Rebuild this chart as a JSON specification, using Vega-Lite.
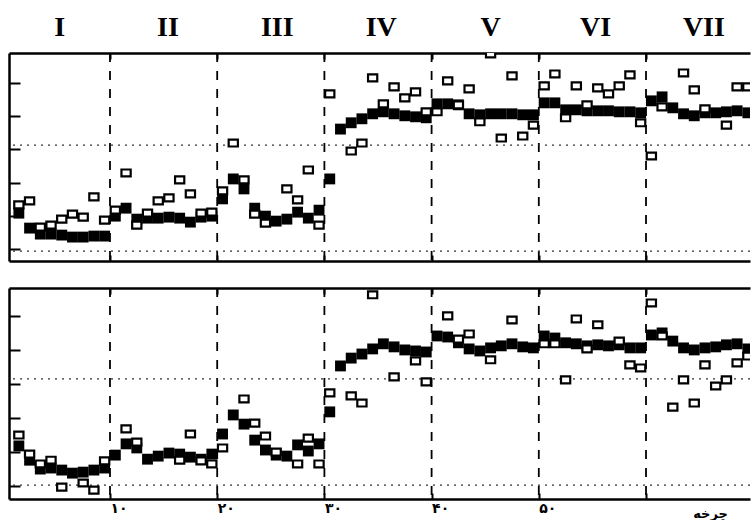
{
"$schema": "https://vega.github.io/schema/vega-lite/v6.json",
"background": "white",
"padding": {"left": 8, "top": 13, "right": 0, "bottom": 0},
"spacing": 25,
"config": {"view": {"stroke": null}, "axis": {"grid": false, "domainColor": "black", "tickColor": "black", "domainWidth": 2.5, "tickWidth": 2}},
"datasets": {
"dec": [{"c":10},{"c":20},{"c":30},{"c":40},{"c":50},{"c":60}],
"roman": [{"x":5.3,"t":"I"},{"x":15.4,"t":"II"},{"x":25.6,"t":"III"},{"x":35.3,"t":"IV"},{"x":45.5,"t":"V"},{"x":55.3,"t":"VI"},{"x":65.4,"t":"VII"}],
"top_dot": [{"v":31.3},{"v":-0.6}],
"bot_dot": [{"v":31.5},{"v":0.3}],
"top_f": [{"x":1.5,"v":10.8},{"x":2.5,"v":6.3},{"x":3.5,"v":4.5},{"x":4.5,"v":4.5},{"x":5.5,"v":4.2},{"x":6.5,"v":3.6},{"x":7.5,"v":3.6},{"x":8.5,"v":3.9},{"x":9.5,"v":3.9},{"x":10.5,"v":9.9},{"x":11.5,"v":12.3},{"x":12.5,"v":9.0},{"x":13.5,"v":9.3},{"x":14.5,"v":9.3},{"x":15.5,"v":9.6},{"x":16.5,"v":9.3},{"x":17.5,"v":8.1},{"x":18.5,"v":9.6},{"x":19.5,"v":9.9},{"x":20.5,"v":15.1},{"x":21.5,"v":21.1},{"x":22.5,"v":18.1},{"x":23.5,"v":12.3},{"x":24.5,"v":9.9},{"x":25.5,"v":8.4},{"x":26.5,"v":9.0},{"x":27.5,"v":11.1},{"x":28.5,"v":9.3},{"x":29.5,"v":11.7},{"x":30.5,"v":21.1},{"x":31.5,"v":36.1},{"x":32.5,"v":38.0},{"x":33.5,"v":39.2},{"x":34.5,"v":40.7},{"x":35.5,"v":41.3},{"x":36.5,"v":40.7},{"x":37.5,"v":40.1},{"x":38.5,"v":39.8},{"x":39.5,"v":39.5},{"x":40.5,"v":43.7},{"x":41.5,"v":43.7},{"x":42.5,"v":43.4},{"x":43.5,"v":40.7},{"x":44.5,"v":40.4},{"x":45.5,"v":40.7},{"x":46.5,"v":40.7},{"x":47.5,"v":40.7},{"x":48.5,"v":40.4},{"x":49.5,"v":40.4},{"x":50.5,"v":44.0},{"x":51.5,"v":44.0},{"x":52.5,"v":41.9},{"x":53.5,"v":41.9},{"x":54.5,"v":41.6},{"x":55.5,"v":41.6},{"x":56.5,"v":41.6},{"x":57.5,"v":41.3},{"x":58.5,"v":41.3},{"x":59.5,"v":41.0},{"x":60.5,"v":44.6},{"x":61.5,"v":45.8},{"x":62.5,"v":42.5},{"x":63.5,"v":40.7},{"x":64.5,"v":40.1},{"x":65.5,"v":41.0},{"x":66.5,"v":41.0},{"x":67.5,"v":41.3},{"x":68.5,"v":41.6},{"x":69.5,"v":41.0}],
"top_o": [{"x":1.5,"v":13.3},{"x":2.5,"v":14.5},{"x":3.5,"v":6.6},{"x":4.5,"v":7.2},{"x":5.5,"v":9.0},{"x":6.5,"v":10.5},{"x":7.5,"v":9.6},{"x":8.5,"v":15.7},{"x":9.5,"v":8.7},{"x":10.5,"v":11.7},{"x":11.5,"v":22.9},{"x":12.5,"v":7.2},{"x":13.5,"v":10.8},{"x":14.5,"v":14.5},{"x":15.5,"v":15.4},{"x":16.5,"v":20.8},{"x":17.5,"v":16.6},{"x":18.5,"v":10.8},{"x":19.5,"v":11.1},{"x":20.5,"v":17.5},{"x":21.5,"v":31.9},{"x":22.5,"v":20.8},{"x":23.5,"v":10.5},{"x":24.5,"v":7.8},{"x":26.5,"v":18.1},{"x":27.5,"v":14.8},{"x":28.5,"v":23.8},{"x":29.5,"v":7.2},{"x":30.5,"v":46.7},{"x":32.5,"v":29.5},{"x":33.5,"v":31.9},{"x":34.5,"v":51.5},{"x":35.5,"v":43.7},{"x":36.5,"v":48.8},{"x":37.5,"v":45.5},{"x":38.5,"v":47.3},{"x":39.5,"v":41.3},{"x":40.5,"v":41.3},{"x":41.5,"v":50.6},{"x":42.5,"v":43.4},{"x":43.5,"v":48.2},{"x":44.5,"v":38.3},{"x":45.5,"v":58.7},{"x":46.5,"v":33.4},{"x":47.5,"v":52.1},{"x":48.5,"v":34.0},{"x":49.5,"v":37.3},{"x":50.5,"v":49.1},{"x":51.5,"v":52.7},{"x":52.5,"v":39.5},{"x":53.5,"v":49.1},{"x":54.5,"v":43.4},{"x":55.5,"v":48.5},{"x":56.5,"v":46.7},{"x":57.5,"v":49.1},{"x":58.5,"v":52.4},{"x":59.5,"v":38.0},{"x":60.5,"v":28.0},{"x":61.5,"v":42.8},{"x":63.5,"v":53.0},{"x":64.5,"v":47.9},{"x":65.5,"v":42.2},{"x":67.5,"v":37.3},{"x":68.5,"v":48.8},{"x":69.5,"v":48.8}],
"bot_f": [{"x":1.5,"v":11.8},{"x":2.5,"v":7.6},{"x":3.5,"v":5.0},{"x":4.5,"v":5.3},{"x":5.5,"v":4.7},{"x":6.5,"v":3.8},{"x":7.5,"v":4.1},{"x":8.5,"v":4.7},{"x":9.5,"v":5.3},{"x":10.5,"v":9.1},{"x":11.5,"v":12.4},{"x":12.5,"v":11.2},{"x":13.5,"v":7.9},{"x":14.5,"v":8.8},{"x":15.5,"v":9.7},{"x":16.5,"v":9.4},{"x":17.5,"v":8.5},{"x":18.5,"v":7.9},{"x":19.5,"v":9.4},{"x":20.5,"v":15.3},{"x":21.5,"v":20.9},{"x":22.5,"v":18.2},{"x":23.5,"v":13.5},{"x":24.5,"v":10.6},{"x":25.5,"v":9.1},{"x":26.5,"v":8.8},{"x":27.5,"v":12.1},{"x":28.5,"v":10.3},{"x":29.5,"v":12.4},{"x":30.5,"v":21.8},{"x":31.5,"v":35.3},{"x":32.5,"v":37.6},{"x":33.5,"v":38.8},{"x":34.5,"v":40.3},{"x":35.5,"v":41.8},{"x":36.5,"v":40.9},{"x":37.5,"v":40.0},{"x":38.5,"v":39.7},{"x":39.5,"v":39.4},{"x":40.5,"v":44.1},{"x":41.5,"v":43.8},{"x":42.5,"v":42.1},{"x":43.5,"v":40.3},{"x":44.5,"v":39.7},{"x":45.5,"v":40.6},{"x":46.5,"v":41.2},{"x":47.5,"v":41.8},{"x":48.5,"v":40.9},{"x":49.5,"v":40.6},{"x":50.5,"v":44.1},{"x":51.5,"v":43.5},{"x":52.5,"v":42.1},{"x":53.5,"v":41.8},{"x":54.5,"v":41.2},{"x":55.5,"v":41.5},{"x":56.5,"v":41.2},{"x":57.5,"v":41.5},{"x":58.5,"v":40.6},{"x":59.5,"v":40.6},{"x":60.5,"v":44.4},{"x":61.5,"v":45.0},{"x":62.5,"v":42.6},{"x":63.5,"v":40.6},{"x":64.5,"v":40.0},{"x":65.5,"v":40.6},{"x":66.5,"v":40.9},{"x":67.5,"v":41.5},{"x":68.5,"v":41.8},{"x":69.5,"v":40.3}],
"bot_o": [{"x":1.5,"v":15.0},{"x":2.5,"v":9.4},{"x":3.5,"v":6.5},{"x":4.5,"v":7.6},{"x":5.5,"v":-0.3},{"x":7.5,"v":0.9},{"x":8.5,"v":-1.2},{"x":9.5,"v":7.4},{"x":11.5,"v":16.8},{"x":12.5,"v":12.9},{"x":16.5,"v":7.6},{"x":17.5,"v":15.3},{"x":18.5,"v":7.4},{"x":19.5,"v":6.5},{"x":20.5,"v":11.2},{"x":22.5,"v":25.6},{"x":23.5,"v":18.5},{"x":24.5,"v":14.7},{"x":25.5,"v":10.0},{"x":27.5,"v":6.5},{"x":28.5,"v":14.1},{"x":29.5,"v":6.5},{"x":30.5,"v":27.4},{"x":32.5,"v":26.5},{"x":33.5,"v":24.4},{"x":34.5,"v":56.2},{"x":36.5,"v":32.1},{"x":38.5,"v":36.8},{"x":39.5,"v":30.6},{"x":41.5,"v":50.0},{"x":42.5,"v":43.2},{"x":43.5,"v":44.7},{"x":45.5,"v":37.1},{"x":47.5,"v":48.8},{"x":50.5,"v":41.8},{"x":51.5,"v":41.8},{"x":52.5,"v":31.2},{"x":53.5,"v":49.1},{"x":54.5,"v":40.3},{"x":55.5,"v":47.4},{"x":57.5,"v":42.6},{"x":58.5,"v":35.6},{"x":59.5,"v":34.7},{"x":60.5,"v":53.8},{"x":61.5,"v":44.1},{"x":62.5,"v":23.2},{"x":63.5,"v":31.2},{"x":64.5,"v":24.4},{"x":65.5,"v":35.6},{"x":66.5,"v":29.4},{"x":67.5,"v":31.2},{"x":68.5,"v":36.2},{"x":69.5,"v":38.2}]
},
"vconcat": [
{
"width": 741, "height": 208,
"resolve": {"axis": {"x": "independent"}},
"layer": [
{"data": {"name": "dec"}, "mark": {"type": "rule", "strokeDash": [9, 9], "strokeWidth": 1.8, "color": "black"},
 "encoding": {"x": {"field": "c", "type": "quantitative", "scale": {"domain": [0.58, 69.7]}, "axis": {"orient": "bottom", "values": [10,20,30,40,50,60], "labels": false, "tickSize": -6, "title": null}}}},
{"data": {"name": "top_dot"}, "mark": {"type": "rule", "strokeDash": [2, 5], "strokeWidth": 1.2, "color": "#333"},
 "encoding": {"y": {"field": "v", "type": "quantitative", "scale": {"domain": [-3.6, 59.0]}, "axis": {"values": [0,10,20,30,40,50], "labels": false, "tickSize": -11, "title": null}}}},
{"data": {"name": "top_f"}, "mark": {"type": "point", "shape": "square", "filled": true, "size": 118, "color": "black", "opacity": 1, "clip": true},
 "encoding": {"x": {"field": "x", "type": "quantitative", "scale": {"domain": [0.58, 69.7]}, "axis": null},
  "y": {"field": "v", "type": "quantitative", "scale": {"domain": [-3.6, 59.0]}, "axis": {"values": [0,10,20,30,40,50], "labels": false, "tickSize": -11, "title": null}}}},
{"data": {"name": "top_o"}, "mark": {"type": "point", "shape": "M-1,-0.75L1,-0.75L1,0.75L-1,0.75Z", "filled": true, "fill": "white", "stroke": "black", "strokeWidth": 2.2, "size": 85, "opacity": 1, "clip": true},
 "encoding": {"x": {"field": "x", "type": "quantitative", "scale": {"domain": [0.58, 69.7]}, "axis": {"orient": "top", "values": [10,20,30,40,50,60], "labels": false, "tickSize": -6, "title": null}},
  "y": {"field": "v", "type": "quantitative", "scale": {"domain": [-3.6, 59.0]}, "axis": {"values": [0,10,20,30,40,50], "labels": false, "tickSize": -11, "title": null}}}},
{"data": {"name": "roman"}, "mark": {"type": "text", "font": "Liberation Serif", "fontWeight": "bold", "fontSize": 28, "baseline": "alphabetic", "align": "center", "color": "black"},
 "encoding": {"x": {"field": "x", "type": "quantitative", "scale": {"domain": [0.58, 69.7]}, "axis": null},
  "y": {"datum": 64.2, "type": "quantitative", "scale": {"domain": [-3.6, 59.0]}, "axis": {"values": [0,10,20,30,40,50], "labels": false, "tickSize": -11, "title": null}},
  "text": {"field": "t"}}}
]
},
{
"width": 741, "height": 211,
"resolve": {"axis": {"x": "independent"}},
"layer": [
{"data": {"name": "dec"}, "mark": {"type": "rule", "strokeDash": [9, 9], "strokeWidth": 1.8, "color": "black"},
 "encoding": {"x": {"field": "c", "type": "quantitative", "scale": {"domain": [0.58, 69.7]}, "axis": {"orient": "bottom", "values": [10,20,30,40,50,60], "tickSize": -6, "labelExpr": "datum.value==10?'۱۰':datum.value==20?'۲۰':datum.value==30?'۳۰':datum.value==40?'۴۰':datum.value==50?'۵۰':''", "labelFont": "DejaVu Sans", "labelFontWeight": "bold", "labelFontSize": 14, "labelColor": "black", "labelAlign": "left", "labelBaseline": "top", "labelPadding": 8, "labelOverlap": false, "title": "چرخه", "titleFont": "DejaVu Sans", "titleFontWeight": "bold", "titleFontSize": 13, "titleColor": "black", "titleX": 701, "titleY": 21, "titleAlign": "center", "titleBaseline": "bottom"}}}},
{"data": {"name": "bot_dot"}, "mark": {"type": "rule", "strokeDash": [2, 5], "strokeWidth": 1.2, "color": "#333"},
 "encoding": {"y": {"field": "v", "type": "quantitative", "scale": {"domain": [-3.8, 58.2]}, "axis": {"values": [0,10,20,30,40,50], "labels": false, "tickSize": -11, "title": null}}}},
{"data": {"name": "bot_f"}, "mark": {"type": "point", "shape": "square", "filled": true, "size": 118, "color": "black", "opacity": 1, "clip": true},
 "encoding": {"x": {"field": "x", "type": "quantitative", "scale": {"domain": [0.58, 69.7]}, "axis": null},
  "y": {"field": "v", "type": "quantitative", "scale": {"domain": [-3.8, 58.2]}, "axis": {"values": [0,10,20,30,40,50], "labels": false, "tickSize": -11, "title": null}}}},
{"data": {"name": "bot_o"}, "mark": {"type": "point", "shape": "M-1,-0.75L1,-0.75L1,0.75L-1,0.75Z", "filled": true, "fill": "white", "stroke": "black", "strokeWidth": 2.2, "size": 85, "opacity": 1, "clip": true},
 "encoding": {"x": {"field": "x", "type": "quantitative", "scale": {"domain": [0.58, 69.7]}, "axis": {"orient": "top", "values": [10,20,30,40,50,60], "labels": false, "tickSize": -6, "title": null}},
  "y": {"field": "v", "type": "quantitative", "scale": {"domain": [-3.8, 58.2]}, "axis": {"values": [0,10,20,30,40,50], "labels": false, "tickSize": -11, "title": null}}}}
]
}
]
}
